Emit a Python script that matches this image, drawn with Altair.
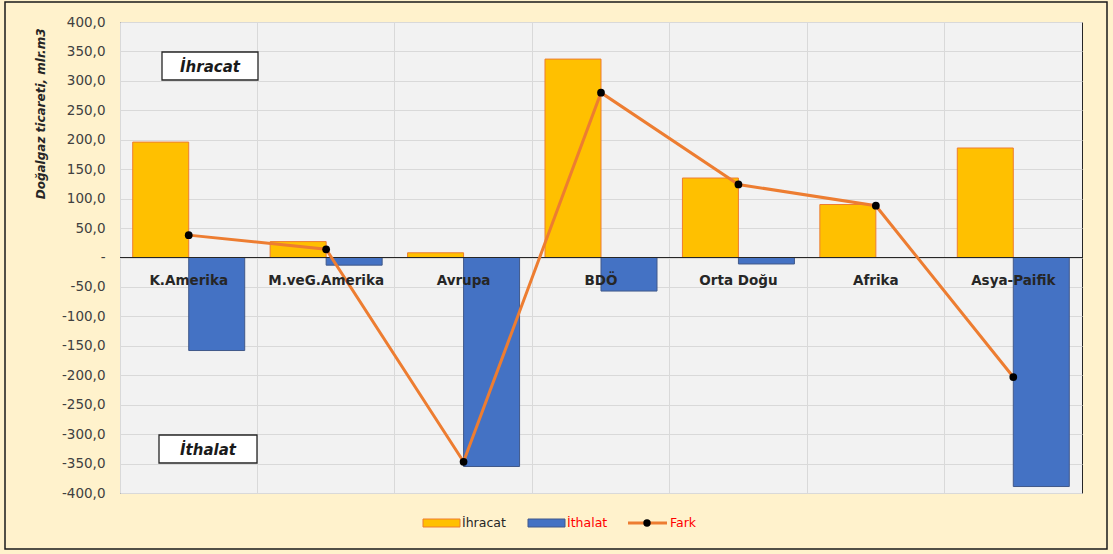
import altair as alt
import pandas as pd

categories = ["K.Amerika", "M.veG.Amerika", "Avrupa", "BDÖ", "Orta Doğu", "Afrika", "Asya-Paifik"]
ihracat = [196, 27, 8, 337, 135, 90, 186]
ithalat = [-158, -13, -355, -57, -11, 0, -389]
fark = [38, 14, -347, 280, 124, 88, -203]
series = ["İhracat", "İthalat"]
y_ticks = list(range(-400, 401, 50))

FONT = "DejaVu Sans"
W, H = 962, 471

bars_df = pd.DataFrame({
    "bolge": categories * 2,
    "seri": [series[0]] * len(categories) + [series[1]] * len(categories),
    "deger": ihracat + ithalat,
})
line_df = pd.DataFrame({"bolge": categories, "fark": fark})
one = pd.DataFrame({"k": [0]})

x_axis = alt.Axis(title=None, labels=False, ticks=False, domain=False,
                  grid=True, bandPosition=0, gridColor="#D9D9D9", gridWidth=1)
x_scale = alt.Scale(paddingInner=0, paddingOuter=0)
x_enc = alt.X("bolge:N", sort=categories, scale=x_scale, axis=x_axis)

y_scale = alt.Scale(domain=[-400, 400], nice=False, zero=False)
y_axis = alt.Axis(
    values=y_ticks, grid=True, gridColor="#D9D9D9", gridWidth=1,
    ticks=False, domain=False, labelPadding=15, labelOverlap=False, labelBound=False,
    labelExpr="datum.value == 0 ? '-' : (datum.value < 0 ? '-' : '') + replace(format(abs(datum.value), '.1f'), '.', ',')",
    labelFont=FONT, labelFontSize=13.5, labelColor="#404040",
    title="Doğalgaz ticareti, mlr.m3", titleFont=FONT, titleFontSize=12,
    titleFontWeight="bold", titleFontStyle="italic", titleColor="#262626",
    titleAnchor="end", titlePadding=14, titleY=6,
)

bars = alt.Chart(bars_df).mark_bar(strokeWidth=1).encode(
    x=x_enc,
    xOffset=alt.XOffset("seri:N", sort=series,
                        scale=alt.Scale(paddingInner=0, paddingOuter=0.227)),
    y=alt.Y("deger:Q", scale=y_scale, axis=y_axis),
    fill=alt.Fill("seri:N", scale=alt.Scale(domain=series, range=["#FFC000", "#4472C4"]), legend=None),
    stroke=alt.Stroke("seri:N", scale=alt.Scale(domain=series, range=["#ED7D31", "#41598A"]), legend=None),
)

zero_rule = alt.Chart(one).mark_rule(color="#262626", strokeWidth=1).encode(
    y=alt.YDatum(0, scale=y_scale, axis=y_axis))

line = alt.Chart(line_df).mark_line(color="#ED7D31", strokeWidth=3).encode(
    x=x_enc, y=alt.Y("fark:Q", scale=y_scale, axis=y_axis))
points = alt.Chart(line_df).mark_circle(color="black", size=60, opacity=1).encode(
    x=x_enc, y=alt.Y("fark:Q", scale=y_scale, axis=y_axis))

cat_labels = alt.Chart(line_df).mark_text(
    font=FONT, fontSize=13.5, fontWeight="bold", color="#262626", dy=23, baseline="middle"
).encode(x=x_enc, y=alt.YDatum(0, scale=y_scale, axis=y_axis), text="bolge:N")

# annotation boxes
def box(x1, x2, y1, y2, label):
    r = alt.Chart(one).mark_rect(fill="white", stroke="#262626", strokeWidth=1.3).encode(
        x=alt.value(x1), x2=alt.value(x2), y=alt.value(y1), y2=alt.value(y2))
    t = alt.Chart(one).mark_text(font=FONT, fontSize=15, fontWeight="bold", fontStyle="italic",
                                 color="#1a1a1a", baseline="middle", align="center").encode(
        x=alt.value((x1 + x2) / 2), y=alt.value((y1 + y2) / 2 + 1), text=alt.value(label))
    return r + t

box1 = box(42, 138, 30, 58, "İhracat")
box2 = box(39, 137, 413, 441, "İthalat")

# manual legend
leg_names = ["İhracat", "İthalat", "Fark"]
leg_colors = ["#262626", "#FF0000", "#FF0000"]
leg1 = alt.Chart(one).mark_rect(fill="#FFC000", stroke="#ED7D31").encode(
    x=alt.value(303), x2=alt.value(340), y=alt.value(497), y2=alt.value(505))
leg2 = alt.Chart(one).mark_rect(fill="#4472C4", stroke="#41598A").encode(
    x=alt.value(408), x2=alt.value(445), y=alt.value(497), y2=alt.value(505))
leg3 = alt.Chart(one).mark_rule(color="#ED7D31", strokeWidth=3).encode(
    x=alt.value(508), x2=alt.value(547), y=alt.value(501))
leg3p = alt.Chart(one).mark_circle(color="black", size=55, opacity=1).encode(
    x=alt.value(527), y=alt.value(501))
leg_text = alt.layer(*[
    alt.Chart(one).mark_text(font=FONT, fontSize=12.5, color=c, align="left", baseline="middle").encode(
        x=alt.value(px), y=alt.value(501), text=alt.value(n))
    for n, c, px in zip(leg_names, leg_colors, [342, 447, 550])
])

border = alt.Chart(one).mark_rect(fillOpacity=0, stroke="#1a1a1a", strokeWidth=1.5).encode(
    x=alt.value(-115), x2=alt.value(987), y=alt.value(-20), y2=alt.value(527))

chart = alt.layer(
    bars, zero_rule, line, points, cat_labels, box1, box2,
    leg1, leg2, leg3, leg3p, leg_text, border,
).properties(
    width=W, height=H,
    autosize=alt.AutoSizeParams(type="none"),
    padding={"left": 120, "top": 22, "right": 31, "bottom": 61},
    background="#FFF2CC",
).configure_view(
    fill="#F2F2F2", stroke="#262626", strokeWidth=1,
)

chart.save("out.html", embed_options={"renderer": "svg", "actions": False})
